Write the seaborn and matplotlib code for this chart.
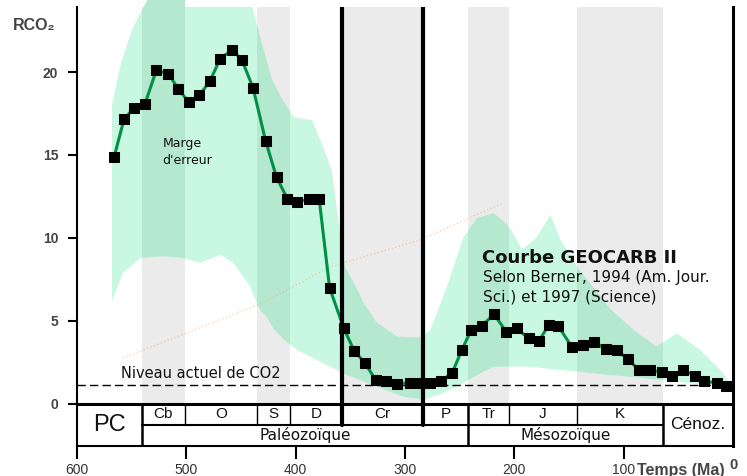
import matplotlib
matplotlib.use("Agg")
import matplotlib.pyplot as plt
import seaborn as sns
from matplotlib.patches import Rectangle

# GEOCARB II curve: age (Ma) and RCO2
ages = [566, 557, 548, 538, 527.5, 516.5, 507.5, 498, 488, 478.5, 469, 458, 449,
        439, 427.5, 417.5, 407.5, 399, 388, 378.5, 369, 356, 346.5, 336.5, 327,
        317.5, 307.5, 295.5, 286.5, 277, 267, 257, 248, 239.5, 230, 218.5, 207.5,
        198, 187, 177.5, 168.5, 160, 147.5, 137, 127, 116.5, 106.5, 96.5, 86, 76,
        65, 55.5, 46, 34.5, 26.5, 15, 6.5]
rco2 = [14.9, 17.15, 17.85, 18.05, 20.1, 19.9, 19.0, 18.2, 18.6, 19.45, 20.8, 21.35,
        20.7, 19.05, 15.85, 13.65, 12.35, 12.15, 12.35, 12.35, 7.0, 4.55, 3.2, 2.45,
        1.45, 1.35, 1.2, 1.28, 1.28, 1.28, 1.4, 1.85, 3.25, 4.45, 4.7, 5.4, 4.35,
        4.55, 3.95, 3.8, 4.75, 4.7, 3.45, 3.55, 3.75, 3.3, 3.25, 2.7, 2.05, 2.05,
        1.9, 1.7, 2.05, 1.7, 1.35, 1.28, 1.08]

# error margin ("Marge d'erreur"), upper and lower edges
upper_age = [568, 560, 550, 541, 530, 450, 440, 430, 422, 412, 402, 395, 385, 375,
             367, 357, 354, 346, 338, 326, 307, 286, 277, 262, 247, 234, 219, 210,
             203, 193, 180, 167, 158, 141, 112, 90, 70, 51.5, 30, 9, 4]
upper_val = [18.0, 20.5, 22.5, 23.7, 25.0, 25.0, 24.0, 21.5, 19.6, 18.3, 17.3, 17.2,
             17.1, 15.5, 14.1, 9.1, 8.1, 7.2, 6.1, 4.9, 4.05, 4.0, 4.45, 7.0, 10.0,
             11.2, 11.5, 11.0, 10.5, 9.3, 10.0, 11.4, 9.9, 8.1, 5.7, 4.4, 3.45, 4.25,
             3.25, 1.85, 1.2]
lower_age = [568, 558, 542, 520, 503, 487, 469, 457, 442, 433, 426, 420, 411, 399,
             375, 353, 326, 302, 283, 265, 247, 231, 219, 189, 143, 97, 51.5, 12, 4]
lower_val = [6.2, 7.9, 8.8, 8.9, 8.8, 8.5, 9.0, 8.5, 7.1, 5.7, 5.2, 4.5, 3.9, 3.25,
             2.45, 1.75, 1.05, 0.45, 0.25, 0.65, 1.25, 1.85, 2.25, 2.25, 1.95, 1.65,
             1.35, 1.05, 0.9]

# faint orange dotted trace
trace_age = [558, 432.6, 368.6, 286.3, 210.4]
trace_val = [2.77, 6.02, 8.25, 9.88, 12.1]

periods = ["Cb", "O", "S", "D", "Cr", "P", "Tr", "J", "K"]
period_bounds = [541, 501, 435, 405, 357.5, 283.5, 242.4, 205, 142.7, 64]
shaded = ["Cb", "S", "Cr", "Tr", "K"]
eras = ["Paléozoïque", "Mésozoïque"]
era_bounds = [541, 242.4, 64]

present_level = 1.14
yticks = [0, 5, 10, 15, 20]
xticks = [600, 500, 400, 300, 200, 100]

sns.set_theme(style="white")
plt.rcParams["font.family"] = ["Liberation Sans", "DejaVu Sans"]

GREEN = "#c8f8e1"
GREEN_GRAY = "#b4e8cf"
GRAY = "#ebebeb"
TOP = 23.92
MID = -1.27
BOTTOM = -2.52

fig = plt.figure(figsize=(7.47, 4.76), dpi=100)
ax = fig.add_axes([0.1031, 0.0637, 0.8782, 0.9216])
ax.set_xlim(600, 0)
ax.set_ylim(BOTTOM, TOP)

# error margin polygon
poly_x = upper_age + lower_age[::-1]
poly_y = upper_val + lower_val[::-1]
ax.fill(poly_x, poly_y, color=GREEN, lw=0, zorder=1)

# shaded periods (gray), with darker green where the margin overlaps
for i, name in enumerate(periods):
    if name not in shaded:
        continue
    hi, lo = period_bounds[i], period_bounds[i + 1]
    ax.add_patch(Rectangle((lo, 0), hi - lo, 30, color=GRAY, lw=0, zorder=0.5))
    clip = Rectangle((lo, 0), hi - lo, 30, transform=ax.transData)
    p = ax.fill(poly_x, poly_y, color=GREEN_GRAY, lw=0, zorder=1.5)[0]
    p.set_clip_path(clip)

ax.plot(trace_age, trace_val, ls=":", color="#f5a25d", lw=1, alpha=0.45, zorder=2)

# present-day level
ax.axhline(present_level, color="black", lw=1, dashes=(6, 3), zorder=3)
ax.text(560, 1.82, "Niveau actuel de CO2", fontsize=10.5,
        family="DejaVu Sans", va="center", ha="left", color="#111")

# GEOCARB curve
sns.lineplot(x=ages, y=rco2, ax=ax, sort=False, estimator=None, color="#008f45",
             lw=2.2, marker="s", markersize=7, markerfacecolor="black",
             markeredgecolor="black", zorder=5)

# zero line and geological time table
ax.axhline(0, color="black", lw=2.2, zorder=6)
ax.plot([period_bounds[0], period_bounds[-1]], [MID, MID], color="black", lw=1.5, zorder=6)
for b in period_bounds:
    if b in (357.5, 283.5):
        ax.plot([b, b], [MID, TOP], color="black", lw=3, zorder=6)
    elif b in era_bounds:
        ax.plot([b, b], [BOTTOM, 0], color="black", lw=1.8, zorder=6)
    else:
        ax.plot([b, b], [MID, 0], color="black", lw=1, zorder=6)

for i, name in enumerate(periods):
    mid = (period_bounds[i] + period_bounds[i + 1]) / 2
    ax.text(mid, MID / 2, name, ha="center", va="center", fontsize=11, color="#111")
for i, name in enumerate(eras):
    mid = (era_bounds[i] + era_bounds[i + 1]) / 2
    ax.text(mid, (MID + BOTTOM) / 2, name, ha="center", va="center", fontsize=11,
            family="DejaVu Sans", color="#111")
ax.text((600 + era_bounds[0]) / 2, BOTTOM / 2, "PC", ha="center", va="center",
        fontsize=17, color="#111")
ax.text(era_bounds[-1] / 2, BOTTOM / 2, "Cénoz.", ha="center", va="center",
        fontsize=12.5, color="#111")

# annotations
ax.text(522, 15.2, "Marge\nd'erreur", fontsize=9, family="DejaVu Sans",
        ha="left", va="center", linespacing=1.4, color="#111")
ax.text(230, 8.8, "Courbe GEOCARB II", fontsize=13, fontweight="bold",
        family="DejaVu Sans", ha="left", va="center", color="#111")
ax.text(229, 7.59, "Selon Berner, 1994 (Am. Jour.", fontsize=11,
        family="DejaVu Sans", ha="left", va="center", color="#111")
ax.text(229, 6.45, "Sci.) et 1997 (Science)", fontsize=11,
        family="DejaVu Sans", ha="left", va="center", color="#111")

# axes styling
ax.set_yticks(yticks)
ax.set_xticks(xticks)
ax.tick_params(axis="y", direction="out", length=6.5, width=1.5, pad=7,
               labelsize=10, color="black", labelcolor="#444", left=True)
ax.tick_params(axis="x", direction="out", length=9.5, width=1.5, pad=3,
               labelsize=10, color="black", labelcolor="#333", bottom=True)
for lbl in ax.get_yticklabels():
    lbl.set_fontweight("bold")
ax.spines["top"].set_visible(False)
ax.spines["left"].set_linewidth(1.5)
ax.spines["bottom"].set_linewidth(1.5)
ax.spines["right"].set_linewidth(2.2)
for s in ("left", "bottom", "right"):
    ax.spines[s].set_color("black")

fig.text(13 / 747, 1 - 25 / 476, "RCO\u2082", fontsize=11.5, fontweight="bold",
         color="#444", ha="left", va="center")
fig.text(637 / 747, 1 - 470 / 476, "Temps (Ma)", fontsize=11.5, fontweight="bold",
         color="#444", ha="left", va="center")
fig.text(734 / 747, 1 - 465 / 476, "0", fontsize=10.5, fontweight="bold",
         color="#444", ha="center", va="center")

fig.savefig("out.png", dpi=100)
